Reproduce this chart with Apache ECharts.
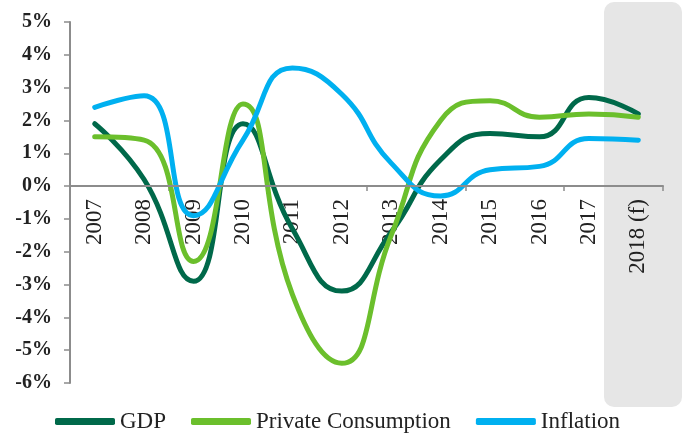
<!DOCTYPE html>
<html>
<head>
<meta charset="utf-8">
<script src="https://cdn.jsdelivr.net/npm/echarts@6/dist/echarts.min.js"></script>
<style>
  html, body { margin: 0; padding: 0; background: #fff; }
  #chart { width: 683px; height: 433px; }
</style>
</head>
<body>
<div id="chart"></div>
<script>
const years = ['2007', '2008', '2009', '2010', '2011', '2012', '2013', '2014', '2015', '2016', '2017', '2018 (f)'];
const gdp = [1.9, 0.2, -2.9, 1.9, -1.3, -3.2, -1.4, 0.8, 1.6, 1.5, 2.7, 2.2];
const privateConsumption = [1.5, 1.4, -2.3, 2.5, -3.3, -5.4, -1.5, 2.0, 2.6, 2.1, 2.2, 2.1];
const inflation = [2.4, 2.75, -0.9, 1.4, 3.6, 2.8, 0.7, -0.3, 0.5, 0.6, 1.45, 1.4];
const yMin = -6;
const yMax = 5;

const serif = 'Liberation Serif';
const chart = echarts.init(document.getElementById('chart'));

const gridTop = 22, gridBottom = 50;
const gridH = 433 - gridTop - gridBottom;
// lift the label axis from the grid bottom up to the 0% line
const zeroOffset = -gridH * (0 - yMin) / (yMax - yMin);

function line(name, data, color) {
  return {
    name: name,
    type: 'line',
    data: data,
    smooth: 0.5,
    symbol: 'none',
    xAxisIndex: 0,
    lineStyle: { width: 5, color: color, cap: 'round' },
    itemStyle: { color: color },
    z: 3
  };
}

const gdpSeries = line('GDP', gdp, '#00694A');
// zero line across the whole plot
gdpSeries.markLine = {
  silent: true,
  symbol: 'none',
  label: { show: false },
  lineStyle: { color: '#8C8C8C', width: 2, type: 'solid' },
  data: [{ yAxis: 0 }]
};

chart.setOption({
  animation: false,
  // forecast year shading
  graphic: [{
    type: 'rect',
    z: -10,
    shape: { x: 604, y: 2, width: 78, height: 405, r: 10 },
    style: { fill: '#E6E6E6' }
  }],
  grid: { left: 70, right: 20, top: gridTop, bottom: gridBottom, containLabel: false, outerBoundsMode: 'none' },
  legend: {
    left: 50,
    top: 405,
    icon: 'roundRect',
    itemWidth: 60,
    itemHeight: 7,
    itemGap: 25,
    textStyle: { fontFamily: serif, fontSize: 23, color: '#222' },
    data: ['GDP', 'Private Consumption', 'Inflation']
  },
  xAxis: [{
    // zero line with ticks
    type: 'category',
    data: years,
    boundaryGap: true,
    axisLine: { show: true, onZero: true, lineStyle: { color: '#8C8C8C', width: 2 } },
    axisTick: { show: true, length: 5, lineStyle: { color: '#8C8C8C', width: 1.5 } },
    axisLabel: { show: false },
    splitLine: { show: false }
  }, {
    // year labels hanging under the zero line
    type: 'category',
    data: years,
    position: 'bottom',
    offset: zeroOffset,
    boundaryGap: true,
    axisLine: { show: false, onZero: false },
    axisTick: { show: false },
    axisLabel: {
      rotate: 90,
      margin: 13,
      interval: 0,
      fontFamily: serif,
      fontSize: 23,
      color: '#222'
    },
    splitLine: { show: false }
  }],
  yAxis: {
    type: 'value',
    min: yMin,
    max: yMax,
    interval: 1,
    axisLine: { show: true, lineStyle: { color: '#8C8C8C', width: 2 } },
    axisTick: { show: true, length: 6, lineStyle: { color: '#8C8C8C', width: 1.5 } },
    axisLabel: {
      margin: 18,
      fontFamily: serif,
      fontWeight: 'bold',
      fontSize: 20,
      color: '#222',
      formatter: v => v + '%'
    },
    splitLine: { show: false }
  },
  series: [
    gdpSeries,
    line('Private Consumption', privateConsumption, '#6BBF2C'),
    line('Inflation', inflation, '#00B0F0')
  ]
});
</script>
</body>
</html>
